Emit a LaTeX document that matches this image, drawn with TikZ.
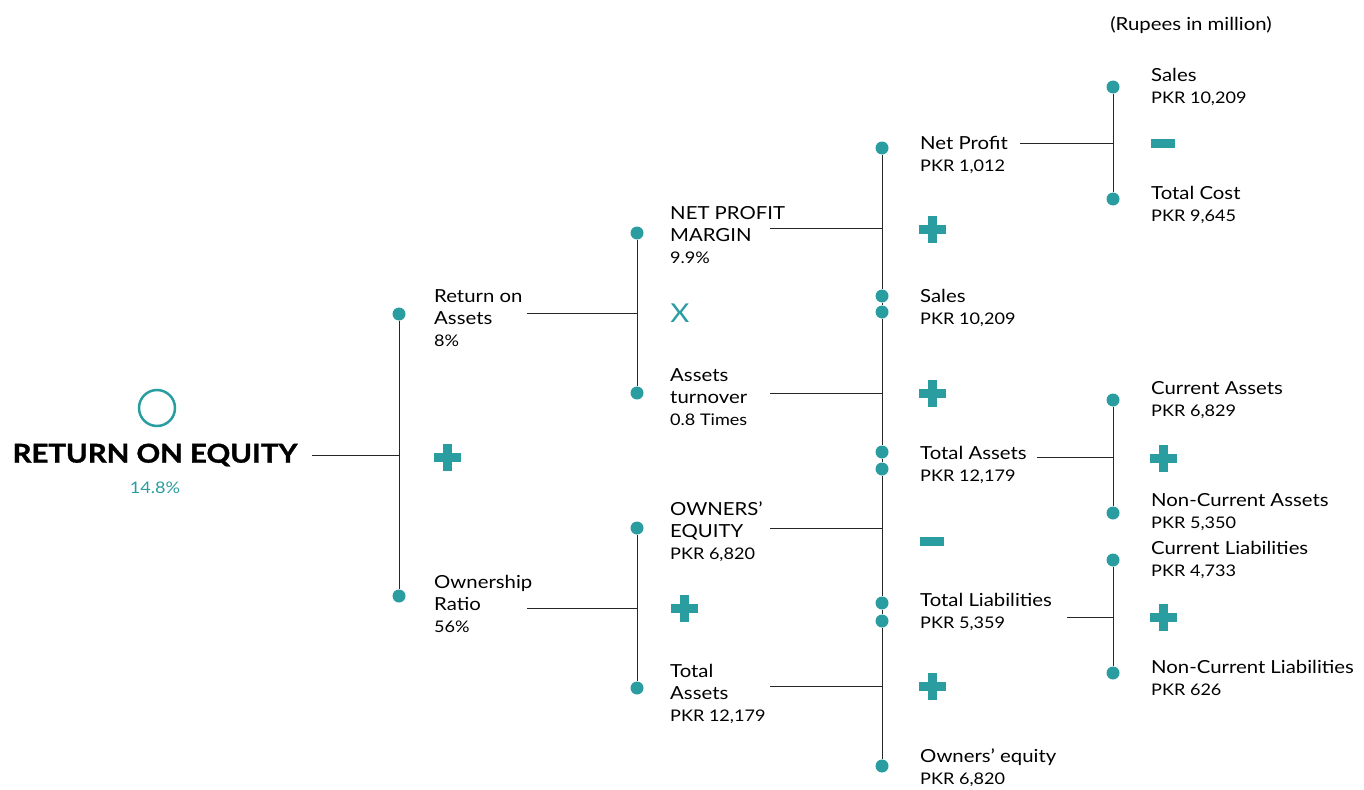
\documentclass[tikz,border=0pt]{standalone}
\usepackage{fontspec}
\setmainfont{Lato}[FakeStretch=1.13]
\usetikzlibrary{positioning}
\definecolor{roeteal}{RGB}{42,157,160}
\newcommand{\amt}[1]{{\fontsize{16}{22}\selectfont #1}}

\begin{document}
\begin{tikzpicture}[x=1pt, y=-1pt,
        dot/.style={circle, fill=roeteal, minimum size=13pt, inner sep=0pt},
        lbl/.style={anchor=west, align=left, inner sep=0pt, yshift=-1.5pt, font=\fontsize{18}{22}\selectfont},
        line/.style={-, line width=1pt, black!85},
        plusop/.pic={\fill[roeteal] (-13.5,-4.5) rectangle (13.5,4.5);
                     \fill[roeteal] (-4.5,-13.5) rectangle (4.5,13.5);},
        minusop/.pic={\fill[roeteal] (-12,-4.5) rectangle (12,4.5);}
    ]
        \useasboundingbox (0,0) rectangle (1364,789);

        % Root
        \node[circle, draw=roeteal, line width=2.5pt, minimum size=36pt, inner sep=0pt] (ring) at (157,408) {};
        \node[font=\fontsize{26}{30}\selectfont\bfseries\addfontfeature{FakeBold=1.2}, inner sep=0pt] (roe) at (155,455) {RETURN ON EQUITY};
        \node[font=\fontsize{16}{20}\selectfont, text=roeteal] (roev) at (155,488) {14.8\%};
        \node[font=\fontsize{18}{20}\selectfont] (unit) at (1191,25) {(Rupees in million)};

        \coordinate (s1) at (312,455);
        \coordinate (j1) at (399,455);
        \draw[line] (s1) -- (j1);
        \node[dot] (d1a) at (399,314) {};
        \node[dot] (d1b) at (399,596) {};
        \draw[line] (d1a) -- (d1b);
        \pic at (447,457) {plusop};

        % Return on assets
        \node[lbl] (roa) at (434,317) {Return on\\Assets\\\amt{8\%}};
        \coordinate (s2a) at (527,313);
        \coordinate (j2a) at (637,313);
        \draw[line] (s2a) -- (j2a);
        \node[dot] (d2a) at (637,233) {};
        \node[dot] (d2b) at (637,393) {};
        \draw[line] (d2a) -- (d2b);
        \node[text=roeteal, font=\fontsize{26}{26}\selectfont] (times) at (680,313) {X};

        % Ownership ratio
        \node[lbl] (own) at (434,602) {Ownership\\Ratio\\\amt{56\%}};
        \coordinate (s2b) at (527,608);
        \coordinate (j2b) at (637,608);
        \draw[line] (s2b) -- (j2b);
        \node[dot] (d2c) at (637,528) {};
        \node[dot] (d2d) at (637,688) {};
        \draw[line] (d2c) -- (d2d);
        \pic at (684,608) {plusop};

        % Third level
        \node[lbl] (npm) at (670,234) {NET PROFIT\\MARGIN\\\amt{9.9\%}};
        \node[lbl] (atn) at (670,396) {Assets\\turnover\\\amt{0.8 Times}};
        \node[lbl] (oe) at (670,530) {OWNERS’\\EQUITY\\\amt{PKR 6,820}};
        \node[lbl] (ta) at (670,692) {Total\\Assets\\\amt{PKR 12,179}};

        \coordinate (s3a) at (770,228);
        \coordinate (j3a) at (882,228);
        \coordinate (s3b) at (770,393);
        \coordinate (j3b) at (882,393);
        \coordinate (s3c) at (770,528);
        \coordinate (j3c) at (882,528);
        \coordinate (s3d) at (770,686);
        \coordinate (j3d) at (882,686);
        \draw[line] (s3a) -- (j3a);
        \draw[line] (s3b) -- (j3b);
        \draw[line] (s3c) -- (j3c);
        \draw[line] (s3d) -- (j3d);

        \node[dot] (d3a) at (882,148) {};
        \node[dot] (d3b) at (882,296) {};
        \node[dot] (d3c) at (882,312) {};
        \node[dot] (d3d) at (882,452) {};
        \node[dot] (d3e) at (882,469) {};
        \node[dot] (d3f) at (882,603) {};
        \node[dot] (d3g) at (882,621) {};
        \node[dot] (d3h) at (882,766) {};
        \draw[line] (d3a) -- (d3b) -- (d3c) -- (d3d) -- (d3e) -- (d3f) -- (d3g) -- (d3h);

        \pic at (932,229) {plusop};
        \pic at (932,393) {plusop};
        \pic at (932,541) {minusop};
        \pic at (932,686) {plusop};

        % Fourth level
        \node[lbl] (np) at (920,153) {Net Profit\\\amt{PKR 1,012}};
        \node[lbl] (sl) at (920,306) {Sales\\\amt{PKR 10,209}};
        \node[lbl] (tas) at (920,463) {Total Assets\\\amt{PKR 12,179}};
        \node[lbl] (tl) at (920,610) {Total Liabilities\\\amt{PKR 5,359}};
        \node[lbl] (oeq) at (920,766) {Owners’ equity\\\amt{PKR 6,820}};

        \coordinate (s4a) at (1020,143);
        \coordinate (j4a) at (1113,143);
        \coordinate (s4b) at (1037,457);
        \coordinate (j4b) at (1113,457);
        \coordinate (s4c) at (1067,617);
        \coordinate (j4c) at (1113,617);
        \draw[line] (s4a) -- (j4a);
        \draw[line] (s4b) -- (j4b);
        \draw[line] (s4c) -- (j4c);

        \node[dot] (d4a) at (1113,87) {};
        \node[dot] (d4b) at (1113,199) {};
        \node[dot] (d4c) at (1113,400) {};
        \node[dot] (d4d) at (1113,513) {};
        \node[dot] (d4e) at (1113,560) {};
        \node[dot] (d4f) at (1113,673) {};
        \draw[line] (d4a) -- (d4b);
        \draw[line] (d4c) -- (d4d);
        \draw[line] (d4e) -- (d4f);

        \pic at (1163,143) {minusop};
        \pic at (1163,458) {plusop};
        \pic at (1163,617) {plusop};

        % Fifth level
        \node[lbl] (sl2) at (1151,85) {Sales\\\amt{PKR 10,209}};
        \node[lbl] (tc) at (1151,203) {Total Cost\\\amt{PKR 9,645}};
        \node[lbl] (ca) at (1151,399) {Current Assets\\\amt{PKR 6,829}};
        \node[lbl] (nca) at (1151,511) {Non-Current Assets\\\amt{PKR 5,350}};
        \node[lbl] (cl) at (1151,558) {Current Liabilities\\\amt{PKR 4,733}};
        \node[lbl] (ncl) at (1151,676) {Non-Current Liabilities\\\amt{PKR 626}};

    \end{tikzpicture}
\end{document}
